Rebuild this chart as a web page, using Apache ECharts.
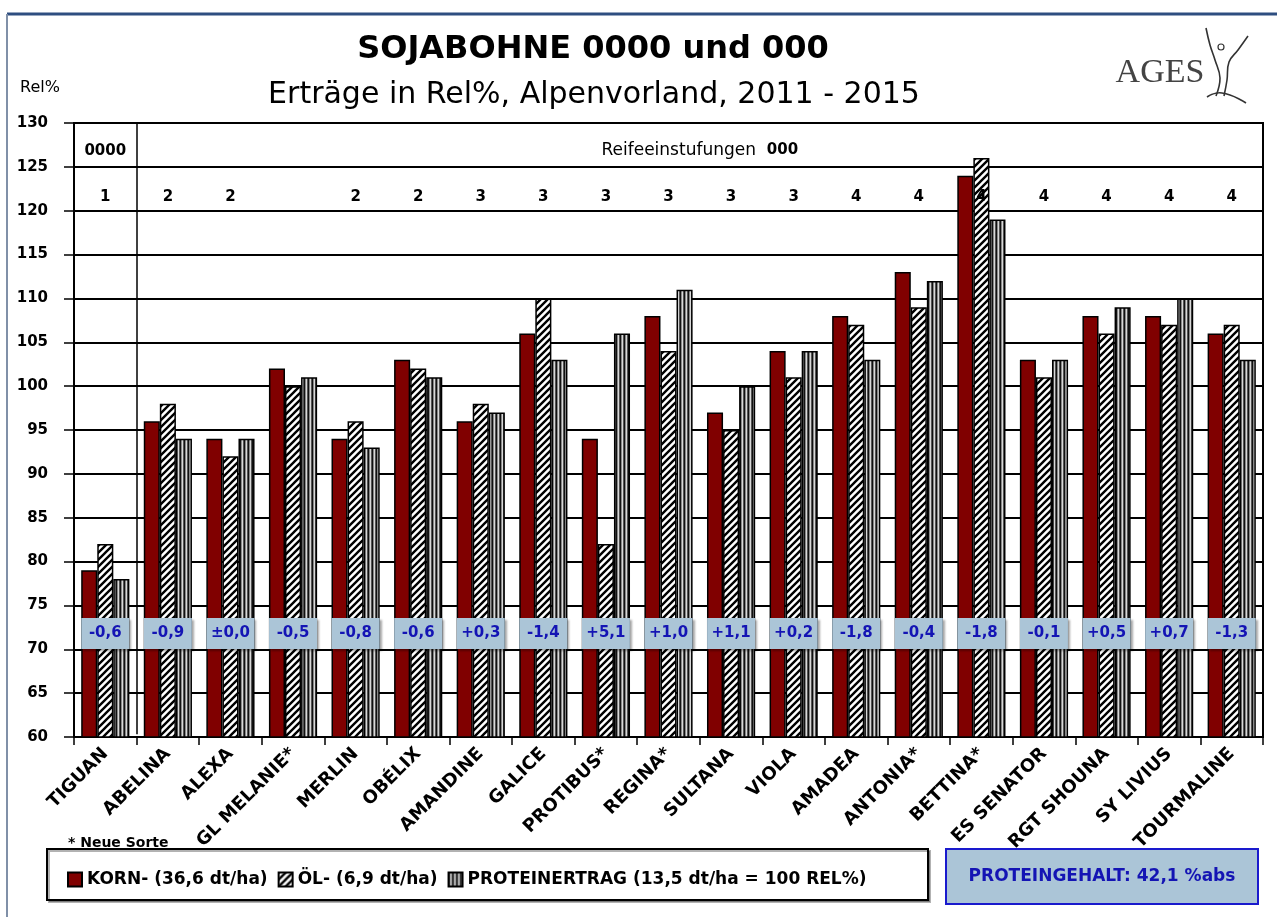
<!DOCTYPE html>
<html>
<head>
<meta charset="utf-8">
<script src="https://cdn.jsdelivr.net/npm/echarts@6/dist/echarts.min.js"></script>
<style>
html, body { margin: 0; padding: 0; background: #fff; }
#main { width: 1277px; height: 917px; }
</style>
</head>
<body>
<div id="main"></div>
<script>
// Sorten und Werte (Rel%)
var sorten = ['TIGUAN', 'ABELINA', 'ALEXA', 'GL MELANIE*', 'MERLIN', 'OBÉLIX', 'AMANDINE', 'GALICE', 'PROTIBUS*', 'REGINA*', 'SULTANA', 'VIOLA', 'AMADEA', 'ANTONIA*', 'BETTINA*', 'ES SENATOR', 'RGT SHOUNA', 'SY LIVIUS', 'TOURMALINE'];
var korn = [79, 96, 94, 102, 94, 103, 96, 106, 94, 108, 97, 104, 108, 113, 124, 103, 108, 108, 106];
var oel = [82, 98, 92, 100, 96, 102, 98, 110, 82, 104, 95, 101, 107, 109, 126, 101, 106, 107, 107];
var proteinertrag = [78, 94, 94, 101, 93, 101, 97, 103, 106, 111, 100, 104, 103, 112, 119, 103, 109, 110, 103];
// Proteingehalt Abweichung (%abs)
var proteinDiff = ['-0,6', '-0,9', '±0,0', '-0,5', '-0,8', '-0,6', '+0,3', '-1,4', '+5,1', '+1,0', '+1,1', '+0,2', '-1,8', '-0,4', '-1,8', '-0,1', '+0,5', '+0,7', '-1,3'];
// Reifeeinstufung
var reife = ['1', '2', '2', '', '2', '2', '3', '3', '3', '3', '3', '3', '4', '4', '4', '4', '4', '4', '4'];
var legendNames = ['KORN- (36,6 dt/ha)', 'ÖL- (6,9 dt/ha)', 'PROTEINERTRAG (13,5 dt/ha = 100 REL%)'];

var FONT = '"DejaVu Sans", Verdana, sans-serif';

// Muster: Schraffur und Streifen
function hatch() {
    var c = document.createElement('canvas');
    c.width = 7; c.height = 7;
    var g = c.getContext('2d');
    g.fillStyle = '#fff';
    g.fillRect(0, 0, 7, 7);
    g.strokeStyle = '#000';
    g.lineWidth = 2.4;
    g.beginPath();
    g.moveTo(-1, 8); g.lineTo(8, -1);
    g.moveTo(-2, 2); g.lineTo(2, -2);
    g.moveTo(5, 9); g.lineTo(9, 5);
    g.stroke();
    return c;
}
function stripes() {
    var c = document.createElement('canvas');
    c.width = 4; c.height = 4;
    var g = c.getContext('2d');
    var cols = ['#111', '#888', '#d8d8d8', '#555'];
    for (var i = 0; i < 4; i++) {
        g.fillStyle = cols[i];
        g.fillRect(i, 0, 1, 4);
    }
    return c;
}

var myChart = echarts.init(document.getElementById('main'));

var barBorder = { borderColor: '#000', borderWidth: 1.5 };
var hidden = { color: 'rgba(0,0,0,0)', opacity: 1 };

var option = {
    backgroundColor: '#fff',
    animation: false,
    grid: {
        left: 74, right: 14, top: 123, bottom: 180,
        show: true, borderColor: '#000', borderWidth: 2
    },
    legend: {
        data: legendNames,
        left: 62, top: 866,
        itemWidth: 14, itemHeight: 14, itemGap: 10,
        icon: 'rect',
        textStyle: { fontFamily: FONT, fontWeight: 'bold', fontSize: 17, color: '#000' }
    },
    xAxis: [{
        type: 'category',
        data: sorten,
        axisLine: { lineStyle: { color: '#000', width: 2 } },
        axisTick: { show: true, length: 8, lineStyle: { color: '#000', width: 1.5 } },
        axisLabel: {
            interval: 0, rotate: 45, margin: 14,
            fontFamily: FONT, fontWeight: 'bold', fontSize: 18, color: '#000'
        },
        splitLine: { show: false }
    }, {
        type: 'value', min: 0, max: 19, show: false
    }],
    yAxis: {
        type: 'value', min: 60, max: 130, interval: 5,
        axisLine: { show: true, lineStyle: { color: '#000', width: 2 } },
        axisTick: { show: true, length: 10, lineStyle: { color: '#000', width: 1.5 } },
        axisLabel: { margin: 26, fontFamily: FONT, fontWeight: 'bold', fontSize: 15, color: '#000' },
        splitLine: { show: true, lineStyle: { color: '#000', width: 2 } }
    },
    series: [{
        name: legendNames[0], type: 'bar', data: korn,
        barGap: '0%', barCategoryGap: '23%',
        itemStyle: Object.assign({ color: '#800000' }, barBorder)
    }, {
        name: legendNames[1], type: 'bar', data: oel,
        itemStyle: Object.assign({ color: { image: hatch(), repeat: 'repeat' } }, barBorder)
    }, {
        name: legendNames[2], type: 'bar', data: proteinertrag,
        itemStyle: Object.assign({ color: { image: stripes(), repeat: 'repeat' } }, barBorder)
    }, {
        // Proteingehalt-Kästchen
        type: 'scatter', z: 5,
        symbol: 'rect', symbolSize: [48, 31],
        itemStyle: { color: '#abc5d7', opacity: 1, shadowColor: 'rgba(0,0,0,0.35)', shadowOffsetX: 2, shadowOffsetY: 2, shadowBlur: 2 },
        label: { show: true, position: 'inside', formatter: '{b}', fontFamily: FONT, fontWeight: 'bold', fontSize: 15, color: '#1414b4' },
        emphasis: { disabled: true },
        data: proteinDiff.map(function (t, i) { return { name: t, value: [i, 71.8] }; })
    }, {
        // Reifeeinstufungen
        type: 'scatter', z: 6,
        symbolSize: 1, itemStyle: hidden,
        label: { show: true, position: 'inside', formatter: '{b}', fontFamily: FONT, fontWeight: 'bold', fontSize: 15, color: '#000' },
        emphasis: { disabled: true },
        data: reife.map(function (t, i) { return { name: t, value: [i, 121.6] }; })
    }, {
        // Kopfzeile 0000 / 000
        type: 'scatter', xAxisIndex: 1, z: 6,
        symbolSize: 1, itemStyle: hidden,
        emphasis: { disabled: true },
        label: {
            show: true, position: 'inside', formatter: '{b}',
            fontFamily: FONT, fontSize: 17, color: '#000',
            rich: {
                n: { fontFamily: FONT, fontSize: 17, color: '#000' },
                b: { fontFamily: FONT, fontSize: 15, fontWeight: 'bold', color: '#000' }
            }
        },
        data: [
            { name: '{b|0000}', value: [0.5, 126.8] },
            { name: '{n|Reifeeinstufungen}  {b|000}', value: [10, 126.9] }
        ],
        markLine: {
            silent: true, symbol: 'none', label: { show: false },
            lineStyle: { color: '#000', width: 1.5, type: 'solid', opacity: 1 },
            data: [[{ coord: [1, 60.3] }, { coord: [1, 130] }]]
        }
    }],
    graphic: [
        { type: 'line', shape: { x1: 7, y1: 14, x2: 1277, y2: 14 }, style: { stroke: '#2e4e80', lineWidth: 3 } },
        { type: 'line', shape: { x1: 7, y1: 14, x2: 7, y2: 917 }, style: { stroke: '#8090a8', lineWidth: 2 } },
        { type: 'text', x: 593, y: 50, style: { text: 'SOJABOHNE 0000 und 000', font: 'bold 32px ' + FONT, fill: '#000', textAlign: 'center', textVerticalAlign: 'middle' } },
        { type: 'text', x: 594, y: 95, style: { text: 'Erträge in Rel%, Alpenvorland, 2011 - 2015', font: '30px ' + FONT, fill: '#000', textAlign: 'center', textVerticalAlign: 'middle' } },
        { type: 'text', x: 20, y: 88, style: { text: 'Rel%', font: '16px ' + FONT, fill: '#000', textVerticalAlign: 'middle' } },
        // AGES Logo
        { type: 'text', x: 1160, y: 73, style: { text: 'AGES', font: '34px "Liberation Serif", serif', fill: '#444', textAlign: 'center', textVerticalAlign: 'middle' } },
        { type: 'polyline', shape: { points: [[1206, 28], [1210, 45], [1215, 60], [1220, 78], [1216, 96]], smooth: 0.4 }, style: { stroke: '#333', lineWidth: 1.6, fill: null } },
        { type: 'polyline', shape: { points: [[1248, 36], [1238, 50], [1229, 62], [1227, 80], [1224, 96]], smooth: 0.4 }, style: { stroke: '#333', lineWidth: 1.6, fill: null } },
        { type: 'circle', shape: { cx: 1221, cy: 47, r: 3 }, style: { stroke: '#333', lineWidth: 1.2, fill: null } },
        { type: 'polyline', shape: { points: [[1207, 97], [1222, 93], [1246, 103]], smooth: 0.5 }, style: { stroke: '#333', lineWidth: 1.6, fill: null } },
        // Fussnote
        { type: 'text', x: 68, y: 843, style: { text: '* Neue Sorte', font: 'bold 14px ' + FONT, fill: '#000', textVerticalAlign: 'middle' } },
        // Legendenrahmen
        { type: 'rect', z: -1, shape: { x: 47, y: 849, width: 881, height: 51 }, style: { fill: '#fff', stroke: '#000', lineWidth: 2, shadowColor: 'rgba(0,0,0,0.3)', shadowOffsetX: 2, shadowOffsetY: 2 } },
        // Proteingehalt
        { type: 'rect', shape: { x: 946, y: 849, width: 312, height: 55 }, style: { fill: '#abc5d7', stroke: '#1a1acd', lineWidth: 2 } },
        { type: 'text', x: 1102, y: 877, style: { text: 'PROTEINGEHALT: 42,1 %abs', font: 'bold 17px ' + FONT, fill: '#1414b4', textAlign: 'center', textVerticalAlign: 'middle' } }
    ]
};

myChart.setOption(option);
</script>
</body>
</html>
